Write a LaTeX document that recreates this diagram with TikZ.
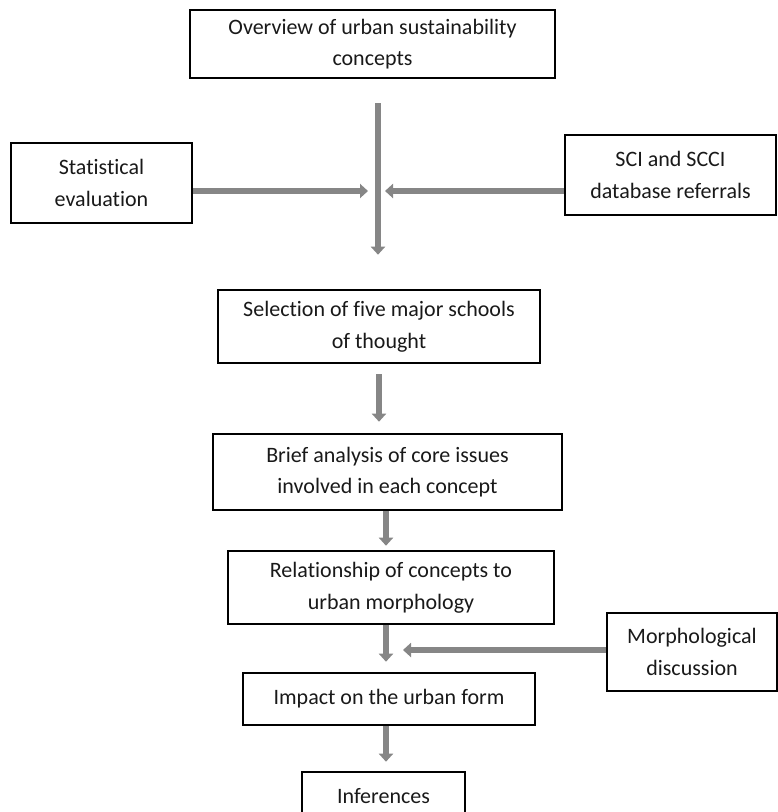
\documentclass[tikz,border=0pt]{standalone}
\usepackage{fontspec}
\setmainfont[Ligatures={NoCommon}]{Carlito}
\usetikzlibrary{arrows.meta}
\definecolor{flowgray}{RGB}{134,134,134}

\begin{document}
\begin{tikzpicture}[x=1pt, y=-1pt,
    box/.style = {shape=rectangle, draw, line width=2.6pt, align=center,
      inner sep=0pt, font=\fontsize{22}{31.5}\selectfont, text=black!90},
    flow/.style = {draw=flowgray, line width=5.5pt,
      -{Triangle[length=8pt, width=14pt]}}]
    \useasboundingbox (0,0) rectangle (778,812);
    \node[box, minimum width=365pt, minimum height=68pt] (overview) at (372.5,44)
        {Overview of urban sustainability\\concepts};
    \node[box, minimum width=181pt, minimum height=80pt] (stats) at (101.5,183)
        {Statistical\\evaluation};
    \node[box, minimum width=211pt, minimum height=80pt] (sci) at (670.5,175)
        {SCI and SCCI\\database referrals};
    \node[box, minimum width=322pt, minimum height=73pt] (schools) at (379,326.5)
        {Selection of five major schools\\of thought};
    \node[box, minimum width=349pt, minimum height=76pt] (issues) at (387.5,472)
        {Brief analysis of core issues\\involved in each concept};
    \node[box, minimum width=326pt, minimum height=73pt] (morpho) at (391,587.5)
        {Relationship of concepts to\\urban morphology};
    \node[box, minimum width=170pt, minimum height=78pt] (discuss) at (692,652)
        {Morphological\\discussion};
    \node[box, minimum width=292pt, minimum height=52pt] (impact) at (389,699)
        {Impact on the urban form};
    \node[box, minimum width=163pt, minimum height=48pt] (infer) at (383.5,796)
        {Inferences};
    % junctions of the arrows
    \coordinate (hub) at (378,191);
    \coordinate (spine) at (386,650);
    \draw[flow, shorten <=24pt, shorten >=34pt] (overview.south -| hub) -- (schools.north -| hub);
    \draw[flow, shorten >=10pt] (stats.east |- hub) -- (hub);
    \draw[flow, shorten >=7pt] (sci.west |- hub) -- (hub);
    \draw[flow, shorten <=10pt, shorten >=11pt] (schools.south) -- (schools.south |- issues.north);
    \draw[flow, shorten >=4pt] (issues.south -| spine) -- (morpho.north -| spine);
    \draw[flow, shorten >=10pt] (morpho.south -| spine) -- (impact.north -| spine);
    \draw[flow, shorten >=17pt] (discuss.west |- spine) -- (spine);
    \draw[flow, shorten >=9pt] (impact.south -| spine) -- (infer.north -| spine);
\end{tikzpicture}
\end{document}
